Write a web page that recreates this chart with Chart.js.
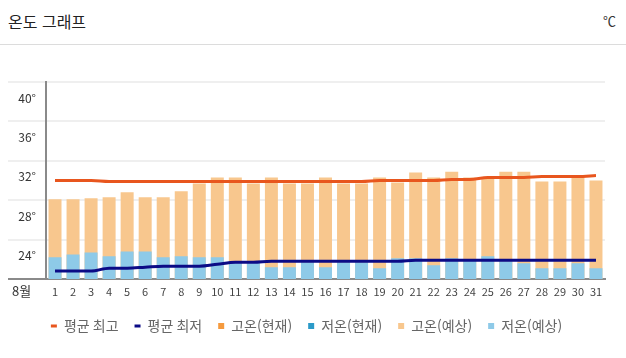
<!DOCTYPE html>
<html lang="ko">
<head>
<meta charset="utf-8">
<script src="https://cdn.jsdelivr.net/npm/chart.js@4/dist/chart.umd.min.js"></script>
<style>
  html, body { margin: 0; padding: 0; background: #fff; }
  body { width: 626px; height: 358px; overflow: hidden; font-family: 'Noto Sans CJK KR', sans-serif; }
  .head { position: relative; height: 44px; border-bottom: 1px solid #dcdcdc; }
  .head .title { position: absolute; left: 8px; top: 9px; font-size: 16px; color: #222; }
  .head .unit { position: absolute; right: 10px; top: 11px; font-size: 13px; color: #333; }
  .wrap { position: relative; width: 626px; height: 313px; }
</style>
</head>
<body>
<div class="head">
  <span class="title">온도 그래프</span>
  <span class="unit">℃</span>
</div>
<div class="wrap">
  <canvas id="tempChart"></canvas>
</div>
<script>
// august days
const days = ['1', '2', '3', '4', '5', '6', '7', '8', '9', '10', '11', '12', '13', '14', '15', '16',
  '17', '18', '19', '20', '21', '22', '23', '24', '25', '26', '27', '28', '29', '30', '31'];
const monthLabel = '8월';
const yTicks = [20, 24, 28, 32, 36, 40];

const avgHigh = [30.0, 30.0, 30.0, 29.9, 29.9, 29.9, 29.9, 29.9, 29.9, 29.9, 29.9, 29.9, 29.9, 29.9, 29.9, 29.9,
  29.9, 29.9, 30.0, 30.0, 30.0, 30.0, 30.1, 30.1, 30.3, 30.3, 30.3, 30.4, 30.4, 30.4, 30.5];
const avgLow = [20.8, 20.8, 20.8, 21.1, 21.1, 21.2, 21.3, 21.3, 21.3, 21.5, 21.7, 21.7, 21.8, 21.8, 21.8, 21.8,
  21.8, 21.8, 21.8, 21.8, 21.9, 21.9, 21.9, 21.9, 21.9, 21.9, 21.9, 21.9, 21.9, 21.9, 21.9];
const highNow = [];
const lowNow = [];
const highForecast = [28.1, 28.1, 28.2, 28.3, 28.8, 28.3, 28.3, 28.9, 29.7, 30.3, 30.3, 29.7, 30.3, 29.7, 29.7, 30.3,
  29.7, 29.7, 30.3, 29.8, 30.8, 30.3, 30.9, 30.3, 30.2, 30.9, 30.9, 29.9, 29.9, 30.3, 30.0];
const lowForecast = [22.2, 22.5, 22.7, 22.3, 22.8, 22.8, 22.2, 22.3, 22.2, 22.2, 21.7, 21.7, 21.2, 21.2, 21.7, 21.2,
  21.7, 21.7, 21.1, 22.1, 22.1, 21.4, 22.1, 21.9, 22.3, 21.8, 21.6, 21.1, 21.1, 21.6, 21.1];

Chart.defaults.font.family = "'Noto Sans CJK KR', 'Noto Sans', sans-serif";

// draws the month name left of the day labels
const monthPlugin = {
  id: 'monthLabel',
  afterDraw(chart) {
    const ctx = chart.ctx;
    const x = chart.scales.x;
    ctx.save();
    ctx.font = "13px 'Noto Sans CJK KR', sans-serif";
    ctx.fillStyle = '#333';
    ctx.textBaseline = 'middle';
    ctx.textAlign = 'left';
    ctx.fillText(monthLabel, 12, x.top + 12);
    ctx.restore();
  }
};

const ctx = document.getElementById('tempChart').getContext('2d');
new Chart(ctx, {
  type: 'bar',
  data: {
    labels: days,
    datasets: [
      {
        type: 'line',
        label: '평균 최고',
        data: avgHigh,
        borderColor: '#e8561e',
        backgroundColor: '#e8561e',
        borderWidth: 3,
        pointRadius: 0,
        tension: 0.4,
        cubicInterpolationMode: 'monotone',
        pointStyle: 'line',
        order: 0,
      },
      {
        type: 'line',
        label: '평균 최저',
        data: avgLow,
        borderColor: '#0b0b86',
        backgroundColor: '#0b0b86',
        borderWidth: 3,
        pointRadius: 0,
        tension: 0.4,
        cubicInterpolationMode: 'monotone',
        pointStyle: 'line',
        order: 0,
      },
      {
        label: '고온(현재)',
        data: highNow,
        backgroundColor: '#f59a3e',
        grouped: false,
        pointStyle: 'rect',
        order: 4,
      },
      {
        label: '저온(현재)',
        data: lowNow,
        backgroundColor: '#2b9ac8',
        grouped: false,
        pointStyle: 'rect',
        order: 3,
      },
      {
        label: '고온(예상)',
        data: highForecast,
        backgroundColor: '#f8c78e',
        grouped: false,
        pointStyle: 'rect',
        order: 2,
      },
      {
        label: '저온(예상)',
        data: lowForecast,
        backgroundColor: '#8ecae8',
        grouped: false,
        pointStyle: 'rect',
        order: 1,
      },
    ],
  },
  options: {
    responsive: true,
    maintainAspectRatio: false,
    animation: false,
    layout: {
      padding: { top: 37, left: 8, right: 21, bottom: 15 },
    },
    scales: {
      x: {
        grid: { display: false },
        border: { display: true, color: '#8a8a8a', width: 2 },
        ticks: { color: '#444', font: { size: 11 }, padding: -2, maxRotation: 0, autoSkip: false },
        afterFit(scale) { scale.height = 24; },
      },
      y: {
        min: 20,
        max: 40,
        afterBuildTicks(scale) { scale.ticks = yTicks.map(v => ({ value: v })); },
        grid: {
          color: c => (c.tick && c.tick.value === 20 ? '#8a8a8a' : '#efefef'),
          lineWidth: 2,
          tickLength: 38,
        },
        border: { display: true, color: '#8a8a8a', width: 2 },
        ticks: {
          color: '#333',
          font: { size: 12 },
          padding: -28,
          labelOffset: 16,
          callback: v => (v === 20 ? '' : v + '°'),
        },
        afterFit(scale) { scale.width = 38; },
      },
    },
    plugins: {
      legend: {
        position: 'bottom',
        labels: {
          usePointStyle: true,
          boxHeight: 6,
          pointStyleWidth: 6,
          color: '#666',
          font: { size: 14 },
          padding: 16,
          sort: (a, b) => a.datasetIndex - b.datasetIndex,
        },
      },
      tooltip: { enabled: false },
    },
  },
  plugins: [monthPlugin],
});
</script>
</body>
</html>
